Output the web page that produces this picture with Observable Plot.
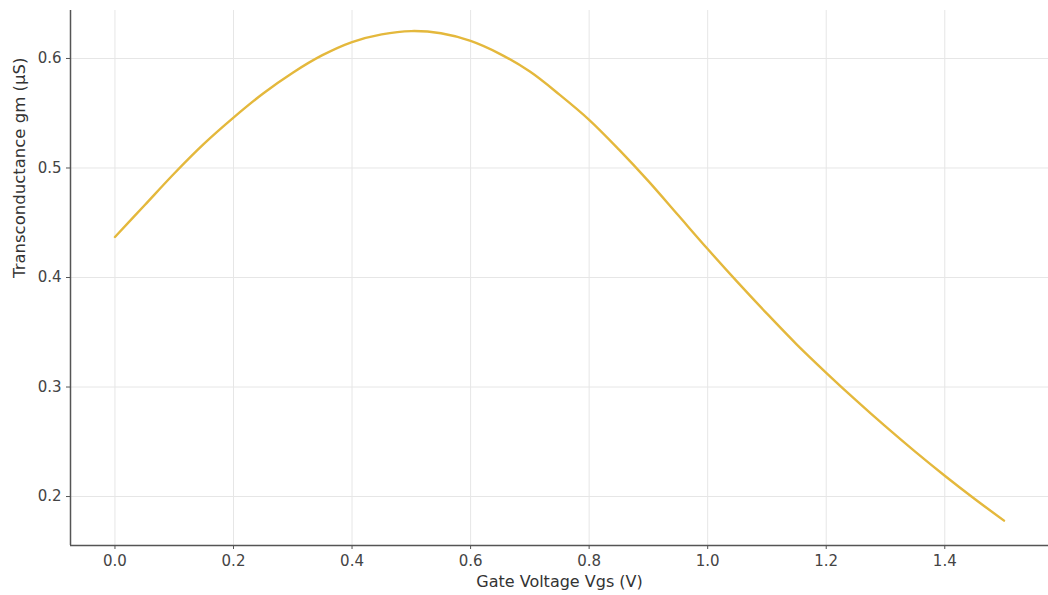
<!DOCTYPE html>
<html>
<head>
<meta charset="utf-8">
<script src="https://cdn.jsdelivr.net/npm/d3@7"></script>
<script src="https://cdn.jsdelivr.net/npm/@observablehq/plot@0.6"></script>
<style>
  html, body { margin: 0; padding: 0; background: #fff; }
  #chart { width: 1048px; height: 595px; }
</style>
</head>
<body>
<div id="chart"></div>
<script>
const vgs = [0.00, 0.05, 0.10, 0.15, 0.20, 0.25, 0.30, 0.35, 0.40, 0.45, 0.50, 0.55, 0.60, 0.65, 0.70, 0.75, 0.80, 0.85, 0.90, 0.95, 1.00, 1.05, 1.10, 1.15, 1.20, 1.25, 1.30, 1.35, 1.40, 1.45, 1.50];
const gm  = [0.437, 0.466, 0.495, 0.522, 0.546, 0.568, 0.587, 0.603, 0.615, 0.622, 0.625, 0.623, 0.616, 0.604, 0.588, 0.567, 0.544, 0.517, 0.488, 0.457, 0.426, 0.396, 0.367, 0.339, 0.313, 0.288, 0.264, 0.241, 0.219, 0.198, 0.178];
const xTicks = [0.0, 0.2, 0.4, 0.6, 0.8, 1.0, 1.2, 1.4];
const yTicks = [0.2, 0.3, 0.4, 0.5, 0.6];
const xLabel = "Gate Voltage Vgs (V)";
const yLabel = "Transconductance gm (μS)";

const data = vgs.map((v, i) => ({vgs: v, gm: gm[i]}));
const xDomain = [-0.075, 1.575];
const yDomain = [0.1553, 0.6438];

const chart = Plot.plot({
  width: 1048,
  height: 595,
  marginLeft: 70,
  marginRight: 0,
  marginTop: 10,
  marginBottom: 50,
  style: {fontFamily: "DejaVu Sans, sans-serif", fontSize: "15px", color: "#333", background: "#fff"},
  x: {domain: xDomain},
  y: {domain: yDomain},
  marks: [
    Plot.gridX(xTicks, {stroke: "#e6e6e6", strokeOpacity: 1, strokeWidth: 1}),
    Plot.gridY(yTicks, {stroke: "#e6e6e6", strokeOpacity: 1, strokeWidth: 1}),
    Plot.line(data, {x: "vgs", y: "gm", stroke: "#e4b83c", strokeWidth: 2.4, curve: "catmull-rom"}),
    Plot.ruleX([xDomain[0]], {stroke: "#555", strokeWidth: 1.5}),
    Plot.ruleY([yDomain[0]], {stroke: "#555", strokeWidth: 1.5}),
    Plot.axisX(xTicks, {
      tickFormat: d3.format(".1f"), tickSize: 4, tickPadding: 6, stroke: "#555",
      fill: "#444", fontSize: 15, label: null
    }),
    Plot.axisY(yTicks, {
      tickFormat: d3.format(".1f"), tickSize: 4, tickPadding: 5, stroke: "#555",
      fill: "#444", fontSize: 15, label: null
    }),
    Plot.text([xLabel], {frameAnchor: "bottom", dy: 36, lineAnchor: "middle", fontSize: 16, fill: "#333"}),
    Plot.text([yLabel], {frameAnchor: "left", dx: -51, rotate: -90, fontSize: 16.5, fill: "#333"})
  ]
});
document.getElementById("chart").appendChild(chart);
</script>
</body>
</html>
